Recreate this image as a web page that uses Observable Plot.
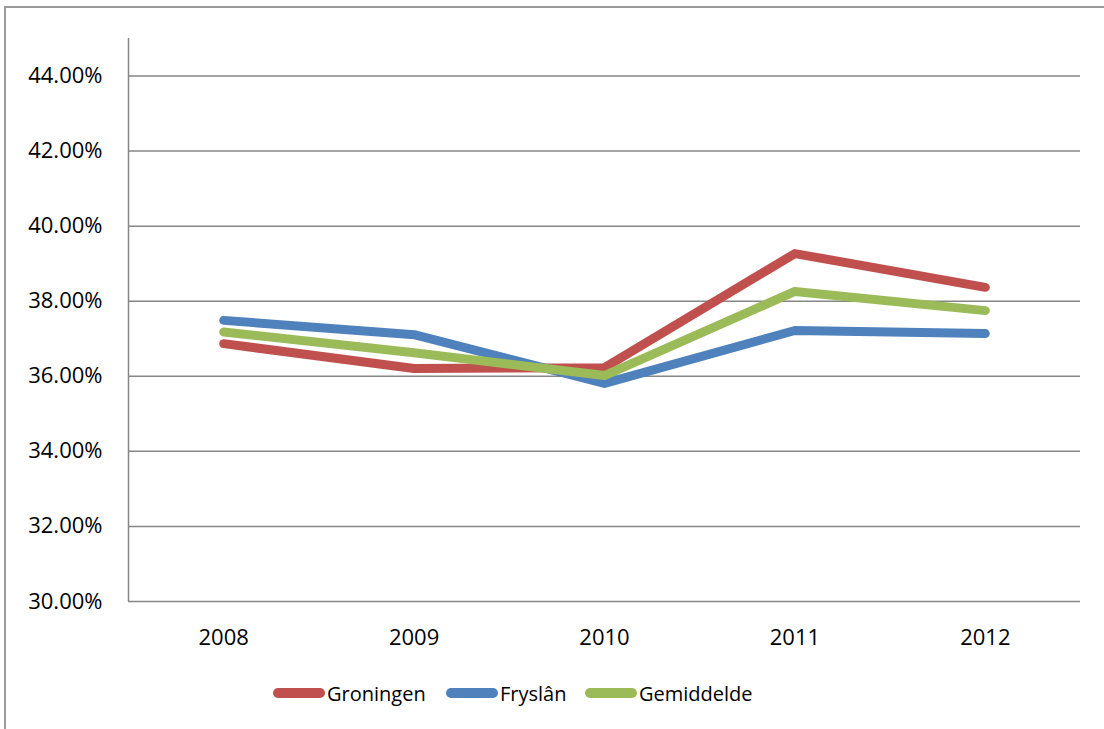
<!DOCTYPE html>
<html>
<head>
<meta charset="utf-8">
<script src="https://cdn.jsdelivr.net/npm/d3@7"></script>
<script src="https://cdn.jsdelivr.net/npm/@observablehq/plot@0.6"></script>
<style>
  html, body { margin: 0; padding: 0; background: #fff; }
  body { width: 1104px; height: 729px; position: relative; overflow: hidden; font-family: "Open Sans", sans-serif; }
  #frame { position: absolute; left: 4px; top: 6px; width: 1200px; height: 800px; border-left: 2px solid #9a9a9a; border-top: 2px solid #9a9a9a; box-sizing: border-box; }
  #chart { position: absolute; left: 0; top: 0; }
  #legend { position: absolute; left: 0; top: 676px; width: 1104px; height: 34px; }
  .item { position: absolute; top: 0; display: flex; align-items: center; height: 34px; font-size: 20px; color: #000; }
  .item svg { display: block; margin-right: 2px; }
</style>
</head>
<body>
<div id="frame"></div>
<div id="chart"></div>
<div id="legend"></div>
<script>
const years = [2008, 2009, 2010, 2011, 2012];
const groningen = [0.3687, 0.3621, 0.3623, 0.3927, 0.3837];
const fryslan = [0.3749, 0.3711, 0.3581, 0.3722, 0.3714];
const gemiddelde = [0.3718, 0.3663, 0.3602, 0.3826, 0.3775];
const seriesNames = ["Groningen", "Fryslân", "Gemiddelde"];
const seriesColors = ["#C0504D", "#4F81BD", "#9BBB59"];
const yTicks = [0.30, 0.32, 0.34, 0.36, 0.38, 0.40, 0.42, 0.44];
const yDomain = [0.30, 0.45];

const seriesValues = [groningen, fryslan, gemiddelde];
const rows = [];
seriesNames.forEach((name, i) => {
  years.forEach((yr, j) => rows.push({series: name, year: yr, value: seriesValues[i][j]}));
});
const xDomain = [years[0] - 0.5, years[years.length - 1] + 0.5];

const plot = Plot.plot({
  width: 1104,
  height: 664,
  marginLeft: 128,
  marginRight: 24,
  marginTop: 38,
  marginBottom: 63,
  style: {fontFamily: "'Open Sans', sans-serif", fontSize: "22px", color: "#000", background: "transparent"},
  x: {type: "linear", domain: xDomain},
  y: {domain: yDomain},
  color: {domain: seriesNames, range: seriesColors},
  marks: [
    Plot.ruleY(yTicks, {stroke: "#868686", strokeWidth: 1.5}),
    Plot.ruleX([xDomain[0]], {stroke: "#868686", strokeWidth: 1.5}),
    Plot.axisY({ticks: yTicks, tickFormat: d3.format(".2%"), tickSize: 0, tickPadding: 26, label: null, fontSize: 22}),
    Plot.axisX({ticks: years, tickFormat: d => String(d), tickSize: 0, tickPadding: 28, label: null, fontSize: 22}),
    Plot.line(rows, {x: "year", y: "value", z: "series", stroke: "series", strokeWidth: 9, strokeLinecap: "round", strokeLinejoin: "round"})
  ]
});
document.getElementById("chart").appendChild(plot);

// Legend
const legend = document.getElementById("legend");
const lefts = [273, 446, 585];
seriesNames.forEach((name, i) => {
  const item = document.createElement("div");
  item.className = "item";
  item.style.left = lefts[i] + "px";
  item.innerHTML = `<svg width="52" height="12"><line x1="5" y1="6" x2="47" y2="6" stroke="${seriesColors[i]}" stroke-width="10" stroke-linecap="round"/></svg><span>${name}</span>`;
  legend.appendChild(item);
});
</script>
</body>
</html>
